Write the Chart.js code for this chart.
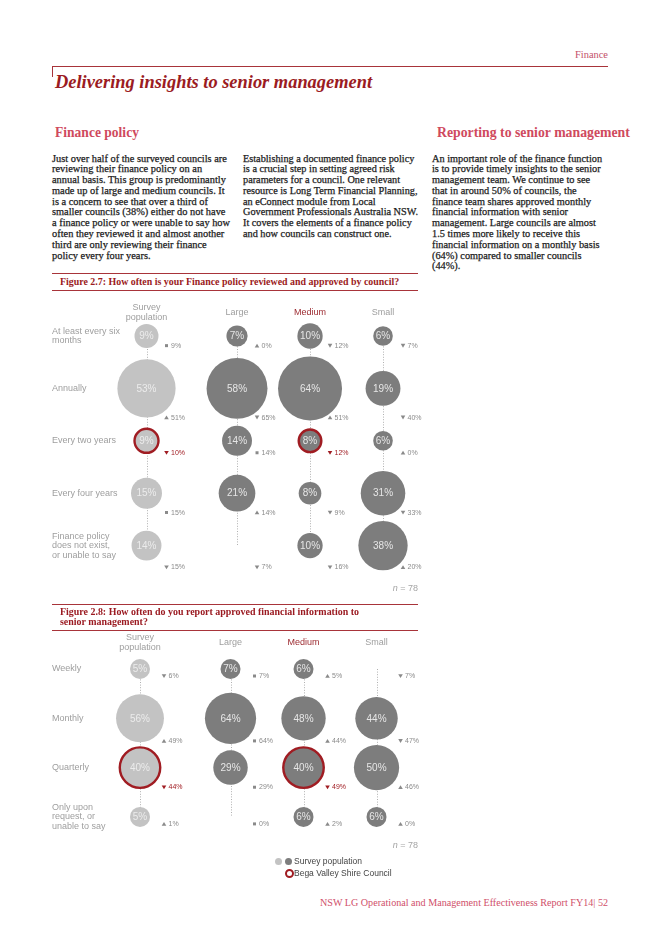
<!DOCTYPE html>
<html><head><meta charset="utf-8">
<script src="https://cdn.jsdelivr.net/npm/chart.js@4.4.0/dist/chart.umd.min.js"></script>
<style>
html,body{margin:0;padding:0;background:#fff;}
body{width:662px;height:936px;position:relative;overflow:hidden;font-family:"Liberation Serif",serif;}
.abs{position:absolute;white-space:nowrap;}
.body{font-size:9.5px;line-height:10.8px;color:#1c1c1c;display:inline-block;-webkit-text-stroke:0.25px #1c1c1c;}
.rule{position:absolute;background:#a8343a;}
.head{font-weight:bold;color:#cf4a5e;font-size:12px;line-height:16px;display:inline-block;}
.figt{font-weight:bold;color:#9b1b22;font-size:9.5px;display:inline-block;}
.sans{font-family:"Liberation Sans",Arial,sans-serif;}
canvas{position:absolute;left:0;}
.dot{position:absolute;border-radius:50%;}
</style></head><body>

<div class="abs" style="right:54px;top:49px;font-size:9.5px;line-height:12px;color:#c4506a;display:inline-block" data-fit="33">Finance</div>
<div class="rule" style="left:52px;top:65.5px;width:556px;height:1.5px;"></div>
<div class="rule" style="left:52px;top:65.5px;width:1px;height:11px;"></div>
<div class="abs" style="left:55px;top:71px;font-size:17px;line-height:22px;font-weight:bold;font-style:italic;color:#9b1b22;display:inline-block" data-fit="317">Delivering insights to senior management</div>

<div class="abs head" style="left:55px;top:125px;" data-fit="84">Finance policy</div>
<div class="abs head" style="left:437px;top:125px;" data-fit="193">Reporting to senior management</div>

<div class="abs body" style="left:52px;top:153.5px;" data-fit="178">Just over half of the surveyed councils are<br>reviewing their finance policy on an<br>annual basis. This group is predominantly<br>made up of large and medium councils. It<br>is a concern to see that over a third of<br>smaller councils (38%) either do not have<br>a finance policy or were unable to say how<br>often they reviewed it and almost another<br>third are only reviewing their finance<br>policy every four years.</div>
<div class="abs body" style="left:243px;top:153.5px;" data-fit="175">Establishing a documented finance policy<br>is a crucial step in setting agreed risk<br>parameters for a council. One relevant<br>resource is Long Term Financial Planning,<br>an eConnect module from Local<br>Government Professionals Australia NSW.<br>It covers the elements of a finance policy<br>and how councils can construct one.</div>
<div class="abs body" style="left:432px;top:153.5px;" data-fit="170">An important role of the finance function<br>is to provide timely insights to the senior<br>management team. We continue to see<br>that in around 50% of councils, the<br>finance team shares approved monthly<br>financial information with senior<br>management. Large councils are almost<br>1.5 times more likely to receive this<br>financial information on a monthly basis<br>(64%) compared to smaller councils<br>(44%).</div>

<div class="rule" style="left:52px;top:272.5px;width:366px;height:1.5px;"></div>
<div class="abs figt" style="left:60px;top:276px;line-height:12px;" data-fit="339">Figure 2.7: How often is your Finance policy reviewed and approved by council?</div>
<div class="rule" style="left:52px;top:289.5px;width:366px;height:1.5px;"></div>
<canvas id="fig1" width="430" height="300" style="top:295px;width:430px;height:300px;"></canvas>
<div class="abs sans" style="right:244px;top:582px;font-size:9px;line-height:12px;color:#a5a5a5;"><i>n</i> = 78</div>

<div class="rule" style="left:52px;top:603.5px;width:366px;height:1.5px;"></div>
<div class="abs figt" style="left:60px;top:607px;line-height:10px;" data-fit="299">Figure 2.8: How often do you report approved financial information to<br>senior management?</div>
<div class="rule" style="left:52px;top:629.5px;width:366px;height:1.5px;"></div>
<canvas id="fig2" width="430" height="208" style="top:632px;width:430px;height:208px;"></canvas>
<div class="abs sans" style="right:244px;top:839px;font-size:9px;line-height:12px;color:#a5a5a5;"><i>n</i> = 78</div>

<div class="dot" style="left:274.5px;top:857.5px;width:7px;height:7px;background:#c3c3c3;"></div>
<div class="dot" style="left:285px;top:857.5px;width:7px;height:7px;background:#7d7d7d;"></div>
<div class="abs sans" style="left:294px;top:855.5px;font-size:8.5px;line-height:11px;color:#444;">Survey population</div>
<div class="dot" style="left:284.5px;top:869px;width:5px;height:5px;border:2px solid #a01c22;"></div>
<div class="abs sans" style="left:294px;top:867.5px;font-size:8.5px;line-height:11px;color:#444;">Bega Valley Shire Council</div>

<div class="abs" style="left:320px;top:896px;font-size:10.5px;line-height:14px;color:#d0506a;display:inline-block" data-fit="288">NSW LG Operational and Management Effectiveness Report FY14| 52</div>

<script>
// ---------- Figure 2.7 data ----------
const fig1Categories = [["At least every six","months"],["Annually"],["Every two years"],["Every four years"],["Finance policy","does not exist,","or unable to say"]];
const fig1Groups = [["Survey","population"],["Large"],["Medium"],["Small"]];
const fig1Survey = [9, 53, 9, 15, 14];
const fig1Large  = [7, 58, 14, 21, 0];
const fig1Medium = [10, 64, 8, 8, 10];
const fig1Small  = [6, 19, 6, 31, 38];
const fig1SurveyPrior = [9, 51, 10, 15, 15];
const fig1LargePrior  = [0, 65, 14, 14, 7];
const fig1MediumPrior = [12, 51, 12, 9, 16];
const fig1SmallPrior  = [7, 40, 0, 33, 20];
const fig1Council = [[0, 2], [2, 2]]; // [group, category] of Bega Valley Shire Council

// ---------- Figure 2.8 data ----------
const fig2Categories = [["Weekly"],["Monthly"],["Quarterly"],["Only upon","request, or","unable to say"]];
const fig2Groups = [["Survey","population"],["Large"],["Medium"],["Small"]];
const fig2Survey = [5, 56, 40, 5];
const fig2Large  = [7, 64, 29, 0];
const fig2Medium = [6, 48, 40, 6];
const fig2Small  = [0, 44, 50, 6];
const fig2SurveyPrior = [6, 49, 44, 1];
const fig2LargePrior  = [7, 64, 29, 0];
const fig2MediumPrior = [5, 44, 49, 2];
const fig2SmallPrior  = [7, 47, 46, 0];
const fig2Council = [[0, 2], [2, 2]];

// ---------- text fitting ----------
document.querySelectorAll('[data-fit]').forEach(el => {
  const target = +el.dataset.fit;
  let fs = parseFloat(getComputedStyle(el).fontSize);
  for (let i = 0; i < 3; i++) {
    const w = el.getBoundingClientRect().width;
    fs *= target / w;
    el.style.fontSize = fs + 'px';
  }
});

const LIGHT = '#c3c3c3', DARK = '#7d7d7d', RED = '#a01c22';
const groupPos = [0, 1.24, 2.24, 3.24];
const SANS = '"Liberation Sans", Arial, sans-serif';

function makeChart(id, cfg, lay) {
  const canvas = document.getElementById(id);
  const W = canvas.width, H = canvas.height;
  const xMin = -lay.firstCol / lay.colGap, xMax = xMin + W / lay.colGap;
  const yMin = -(lay.firstRow - lay.top) / lay.rowGap, yMax = yMin + H / lay.rowGap;
  const isCouncil = (g, r) => cfg.council.some(p => p[0] === g && p[1] === r);
  const rowMaxR = cfg.categories.map((_, r) => Math.max(...cfg.values.map(v => v[r] > 0 ? lay.radius(v[r]) : 0)));

  const datasets = cfg.values.map((vals, g) => ({
    data: vals.map((v, r) => ({ x: groupPos[g], y: r, r: lay.radius(v), v: v, g: g, row: r })).filter(d => d.v > 0),
    backgroundColor: g === 0 ? LIGHT : DARK,
    borderColor: ctx => (ctx.raw && isCouncil(ctx.raw.g, ctx.raw.row)) ? RED : 'rgba(0,0,0,0)',
    borderWidth: ctx => (ctx.raw && isCouncil(ctx.raw.g, ctx.raw.row)) ? 2.4 : 0,
    clip: false
  }));

  const decor = {
    id: 'decor' + id,
    beforeDatasetsDraw(chart) {
      const { ctx, scales: { x, y } } = chart;
      ctx.save();
      ctx.strokeStyle = '#b0b0b0'; ctx.lineWidth = 1; ctx.setLineDash([1, 1.6]);
      cfg.groups.forEach((g, c) => {
        const px = Math.round(x.getPixelForValue(groupPos[c])) + 0.5;
        ctx.beginPath();
        ctx.moveTo(px, y.getPixelForValue(0));
        ctx.lineTo(px, y.getPixelForValue(cfg.categories.length - 1));
        ctx.stroke();
      });
      ctx.restore();
    },
    afterDatasetsDraw(chart) {
      const { ctx, scales: { x, y } } = chart;
      ctx.save();
      // bubble labels
      ctx.textAlign = 'center'; ctx.textBaseline = 'middle';
      ctx.font = '10px ' + SANS;
      chart.data.datasets.forEach((ds, i) => {
        chart.getDatasetMeta(i).data.forEach((el, j) => {
          const d = ds.data[j];
          ctx.fillStyle = d.g === 0 ? '#ececec' : '#e6e6e6';
          ctx.fillText(d.v + '%', el.x, el.y + 0.5);
        });
      });
      // group headers
      ctx.font = '9px ' + SANS;
      cfg.groups.forEach((lines, c) => {
        const px = x.getPixelForValue(groupPos[c]);
        const cy = y.getPixelForValue(0) + lay.headerDy;
        ctx.fillStyle = c === 2 ? '#9c2a30' : '#9e9e9e';
        lines.forEach((t, k) => ctx.fillText(t, px, cy + (k - (lines.length - 1) / 2) * 10));
      });
      // category labels
      ctx.textAlign = 'left'; ctx.fillStyle = '#9e9e9e';
      cfg.categories.forEach((lines, r) => {
        const cy = y.getPixelForValue(r);
        lines.forEach((t, k) => ctx.fillText(t, 52, cy + (k - (lines.length - 1) / 2) * 9.5));
      });
      // prior-year annotations
      ctx.font = '7px ' + SANS;
      cfg.values.forEach((vals, g) => {
        vals.forEach((v, r) => {
          const p = cfg.prior[g][r];
          const mx = x.getPixelForValue(groupPos[g]) + lay.annotDx;
          const my = y.getPixelForValue(r) + rowMaxR[r] - 3;
          const col = isCouncil(g, r) ? RED : '#8a8a8a';
          ctx.fillStyle = col;
          ctx.beginPath();
          if (v > p) { ctx.moveTo(mx, my - 2); ctx.lineTo(mx + 2.3, my + 1.8); ctx.lineTo(mx - 2.3, my + 1.8); }
          else if (v < p) { ctx.moveTo(mx - 2.3, my - 1.8); ctx.lineTo(mx + 2.3, my - 1.8); ctx.lineTo(mx, my + 2); }
          else { ctx.rect(mx - 1.5, my - 1.5, 3, 3); }
          ctx.closePath(); ctx.fill();
          ctx.fillText(p + '%', mx + 4.5, my + 0.3);
        });
      });
      ctx.restore();
    }
  };

  return new Chart(canvas, {
    type: 'bubble',
    data: { datasets },
    options: {
      responsive: false, animation: false, devicePixelRatio: 1, events: [],
      layout: { padding: 0, autoPadding: false },
      scales: {
        x: { type: 'linear', display: false, min: xMin, max: xMax },
        y: { type: 'linear', display: false, reverse: true, min: yMin, max: yMax }
      },
      plugins: { legend: { display: false }, tooltip: { enabled: false } }
    },
    plugins: [decor]
  });
}

makeChart('fig1', {
  categories: fig1Categories, groups: fig1Groups,
  values: [fig1Survey, fig1Large, fig1Medium, fig1Small],
  prior: [fig1SurveyPrior, fig1LargePrior, fig1MediumPrior, fig1SmallPrior],
  council: fig1Council
}, { top: 295, firstRow: 336, rowGap: 52.4, firstCol: 146.5, colGap: 73, headerDy: -23, annotDx: 20,
     radius: v => 4 * Math.sqrt(v) });

makeChart('fig2', {
  categories: fig2Categories, groups: fig2Groups,
  values: [fig2Survey, fig2Large, fig2Medium, fig2Small],
  prior: [fig2SurveyPrior, fig2LargePrior, fig2MediumPrior, fig2SmallPrior],
  council: fig2Council
}, { top: 632, firstRow: 669, rowGap: 49.3, firstCol: 140, colGap: 73, headerDy: -26, annotDx: 24,
     radius: v => Math.max(10, 3.2 * Math.sqrt(v)) });
</script>
</body></html>
